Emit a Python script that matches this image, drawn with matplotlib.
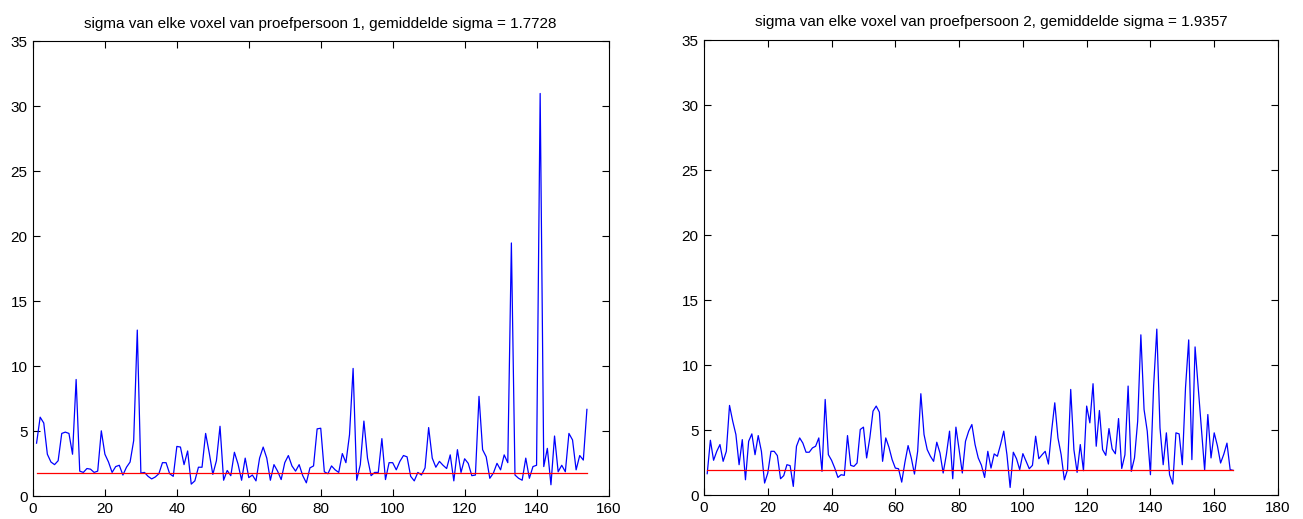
import numpy as np
import matplotlib
matplotlib.use("Agg")
import matplotlib.pyplot as plt

plt.rcParams['font.family'] = ['Liberation Sans', 'DejaVu Sans']

# sigma per voxel, subject 1 and subject 2
sigma_pp1 = [
    4.1, 6.1, 5.65, 3.25, 2.65, 2.45, 2.75, 4.85, 4.95, 4.85,
    3.25, 9.0, 1.95, 1.85, 2.15, 2.1, 1.85, 1.95, 5.05, 3.25,
    2.65, 1.85, 2.3, 2.4, 1.65, 2.25, 2.65, 4.3, 12.8, 1.8,
    1.85, 1.55, 1.35, 1.5, 1.75, 2.6, 2.6, 1.75, 1.55, 3.85,
    3.8, 2.45, 3.5, 0.95, 1.2, 2.25, 2.25, 4.85, 3.35, 1.7,
    2.75, 5.4, 1.25, 2.0, 1.6, 3.4, 2.5, 1.25, 2.95, 1.45,
    1.65, 1.2, 2.95, 3.8, 2.95, 1.25, 2.45, 1.95, 1.3, 2.6,
    3.15, 2.35, 1.95, 2.45, 1.6, 1.05, 2.2, 2.35, 5.2, 5.25,
    1.9, 1.75, 2.35, 2.05, 1.85, 3.3, 2.6, 4.75, 9.85, 1.25,
    2.45, 5.8, 2.95, 1.6, 1.85, 1.85, 4.45, 1.3, 2.6, 2.6,
    2.05, 2.7, 3.15, 3.05, 1.55, 1.2, 1.85, 1.65, 2.2, 5.3,
    2.95, 2.25, 2.7, 2.4, 2.15, 3.2, 1.2, 3.6, 1.85, 2.9,
    2.55, 1.6, 1.65, 7.7, 3.6, 3.05, 1.4, 1.8, 2.55, 2.05,
    3.2, 2.6, 19.5, 1.65, 1.4, 1.25, 2.95, 1.4, 2.3, 2.4,
    31.0, 2.3, 3.7, 0.9, 4.65, 1.9, 2.4, 1.9, 4.85, 4.35,
    2.05, 3.15, 2.8, 6.7,
]
sigma_pp2 = [
    1.65, 4.22, 2.68, 3.37, 3.89, 2.6, 3.37, 6.9, 5.69, 4.66,
    2.34, 4.27, 1.18, 4.14, 4.71, 3.11, 4.58, 3.37, 0.93, 1.7,
    3.37, 3.37, 3.04, 1.26, 1.5, 2.34, 2.27, 0.67, 3.76, 4.4,
    4.0, 3.3, 3.3, 3.63, 3.76, 4.4, 1.83, 7.36, 3.11, 2.68,
    2.08, 1.36, 1.57, 1.52, 4.58, 2.29, 2.21, 2.47, 5.05, 5.23,
    2.86, 4.4, 6.46, 6.85, 6.38, 2.6, 4.4, 3.68, 2.73, 2.08,
    2.03, 1.0, 2.52, 3.81, 2.86, 1.62, 3.37, 7.8, 4.66, 3.5,
    2.99, 2.6, 4.07, 3.24, 1.7, 3.11, 4.92, 1.26, 5.23, 3.5,
    1.7, 4.14, 4.92, 5.43, 3.89, 2.86, 2.3, 1.36, 3.37, 2.08,
    3.17, 2.99, 3.89, 4.92, 3.11, 0.59, 3.3, 2.8, 1.96, 3.19,
    2.6, 2.03, 2.29, 4.53, 2.8, 3.1, 3.37, 2.39, 4.92, 7.1,
    4.4, 3.11, 1.18, 1.96, 8.13, 3.5, 1.75, 3.89, 1.88, 6.85,
    5.56, 8.57, 3.76, 6.51, 3.5, 3.06, 5.12, 3.55, 3.18, 5.89,
    2.05, 3.1, 8.39, 1.83, 2.86, 5.69, 12.33, 6.59, 4.92, 1.57,
    8.39, 12.77, 5.17, 2.34, 4.79, 1.57, 0.85, 4.79, 4.71, 2.34,
    8.26, 11.94, 2.73, 11.4, 8.2, 5.0, 1.9, 6.2, 2.86, 4.79,
    3.8, 2.47, 3.14, 4.0, 1.96, 1.9,
]
mean_sigma = [1.7728, 1.9357]
subjects = [1, 2]
x_max = [160, 180]

fig = plt.figure(figsize=(13.03, 5.19), dpi=100)
ax1 = fig.add_axes([0.0253, 0.0434, 0.4417, 0.8767])
ax2 = fig.add_axes([0.5403, 0.0460, 0.4405, 0.8767])

for ax, sig, m, pp, xm in zip([ax1, ax2], [sigma_pp1, sigma_pp2], mean_sigma, subjects, x_max):
    n = np.arange(1, len(sig) + 1)
    ax.plot(n, sig, color='#0000ff', linewidth=0.9)
    ax.plot([n[0], n[-1]], [m, m], color='#ff0000', linewidth=0.9)
    ax.set_xlim(0, xm)
    ax.set_ylim(0, 35)
    ax.set_xticks(np.arange(0, xm + 1, 20))
    ax.set_yticks(np.arange(0, 36, 5))
    ax.tick_params(direction='in', top=True, right=True, length=5, width=0.8,
                   labelsize=11, pad=4)
    for sp in ax.spines.values():
        sp.set_linewidth(0.8)
    ax.set_title('sigma van elke voxel van proefpersoon %d, gemiddelde sigma = %.4f' % (pp, m),
                 fontsize=11, pad=10)

fig.savefig('out.png', dpi=100)
